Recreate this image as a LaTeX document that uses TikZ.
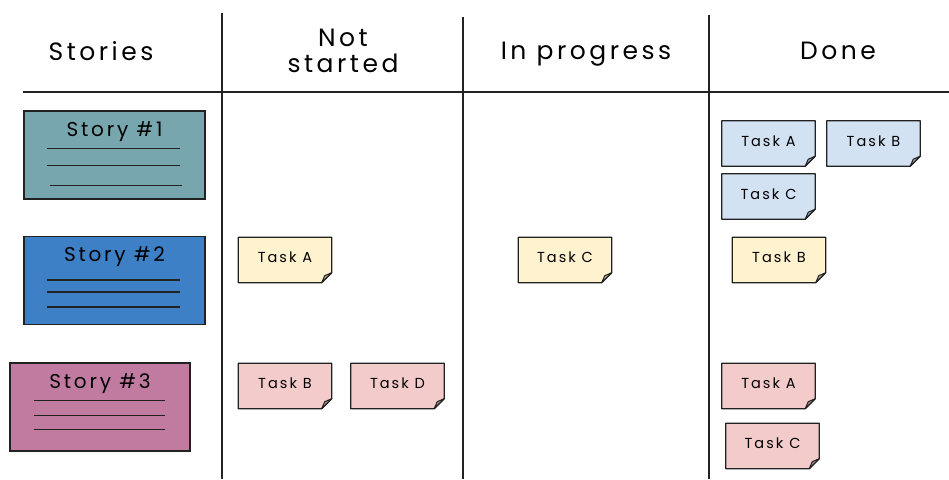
\documentclass[tikz,border=0pt]{standalone}
\usepackage{fontspec}
\setmainfont[LetterSpace=14]{Poppins}
\usetikzlibrary{calc,backgrounds}
\definecolor{storyteal}{HTML}{78A6AE}
\definecolor{storyblue}{HTML}{3D80C5}
\definecolor{storypink}{HTML}{C27BA0}
\definecolor{noteblue}{HTML}{D2E2F3}
\definecolor{noteyellow}{HTML}{FFF2CE}
\definecolor{notepink}{HTML}{F4CBCB}
\definecolor{inkline}{HTML}{222222}
\begin{document}
\begin{tikzpicture}[x=1pt,y=-1pt,
  header/.style={font=\fontsize{25}{27}\selectfont, align=center, anchor=base, inner sep=0pt},
  divider/.style={line width=1.8pt, draw=inkline},
  storybox/.style={draw=inkline, line width=1.4pt, minimum width=181pt,
    inner sep=0pt, text height=25pt, text depth=63pt,
    font=\fontsize{20}{22}\selectfont},
  storyline/.style={line width=1.5pt, draw=inkline},
  sticky/.style={minimum width=93pt, inner sep=0pt,
    text height=25pt, text depth=20pt, font=\fontsize{14.5}{16}\selectfont},
  noteedge/.style={draw=inkline, line width=1.3pt, line join=round},
]
\useasboundingbox (0,0) rectangle (949,479);

% column headers
\node[header] (hStories) at (101,60) {Stories};
\node[header] (hNot1) at (343,46) {Not};
\node[header] (hNot2) at (343,72) {started};
\node[header] (hProg) at (586,59) {In progress};
\node[header] (hDone) at (838,59) {Done};

% grid lines
\coordinate (v1t) at (222,13);  \coordinate (v1b) at (222,479);
\coordinate (v2t) at (463,17);  \coordinate (v2b) at (463,479);
\coordinate (v3t) at (709,15);  \coordinate (v3b) at (709,479);
\coordinate (hl) at (23,92);    \coordinate (hr) at (949,92);
\draw[divider] (hl) -- (hr);
\draw[divider] (v1t) -- (v1b);
\draw[divider] (v2t) -- (v2b);
\draw[divider] (v3t) -- (v3b);

% story cards
\node[storybox, fill=storyteal] (s1) at (114.5,155) {Story \#1};
\node[storybox, fill=storyblue] (s2) at (114.5,280.5) {Story \#2};
\node[storybox, fill=storypink, minimum width=180pt] (s3) at (100,407) {Story \#3};

\draw[storyline] ($(s1.north west)+(24,38)$) -- ($(s1.north west)+(157,38)$);
\draw[storyline] ($(s1.north west)+(24,55)$) -- ($(s1.north west)+(157,55)$);
\draw[storyline] ($(s1.north west)+(27,75)$) -- ($(s1.north west)+(159,75)$);

\draw[storyline] ($(s2.north west)+(24,44)$) -- ($(s2.north west)+(157,44)$);
\draw[storyline] ($(s2.north west)+(24,56)$) -- ($(s2.north west)+(157,56)$);
\draw[storyline] ($(s2.north west)+(24,71)$) -- ($(s2.north west)+(157,71)$);

\draw[storyline] ($(s3.north west)+(25,38)$) -- ($(s3.north west)+(156,38)$);
\draw[storyline] ($(s3.north west)+(25,53)$) -- ($(s3.north west)+(156,53)$);
\draw[storyline] ($(s3.north west)+(25,67)$) -- ($(s3.north west)+(156,67)$);

% task notes (text placed first, paper drawn behind)
\node[sticky] (nsA) at (285,260) {Task A};
\node[sticky] (nsB) at (285,386) {Task B};
\node[sticky] (nsD) at (397.5,386) {Task D};
\node[sticky] (ipC) at (565,260) {Task C};
\node[sticky] (dnA1) at (768.5,143.5) {Task A};
\node[sticky] (dnB1) at (873.5,143.5) {Task B};
\node[sticky] (dnC1) at (768.5,196.5) {Task C};
\node[sticky] (dnB2) at (779,260) {Task B};
\node[sticky] (dnA3) at (768.5,386) {Task A};
\node[sticky] (dnC3) at (772.5,446) {Task C};

\foreach \n/\c in {nsA/noteyellow, nsB/notepink, nsD/notepink, ipC/noteyellow,
                   dnA1/noteblue, dnB1/noteblue, dnC1/noteblue, dnB2/noteyellow,
                   dnA3/notepink, dnC3/notepink}{
  \begin{pgfonlayer}{background}
  \path[noteedge, fill=\c]
    (\n.north west) -- (\n.north east) -- ([yshift=10pt]\n.south east)
    -- ([xshift=-10pt]\n.south east) -- (\n.south west) -- cycle;
  \path[noteedge, fill=\c!70!black, line width=1pt]
    ([xshift=-10pt]\n.south east) -- ([xshift=-7pt,yshift=7pt]\n.south east)
    -- ([yshift=10pt]\n.south east) -- cycle;
  \end{pgfonlayer}
}
\end{tikzpicture}
\end{document}
